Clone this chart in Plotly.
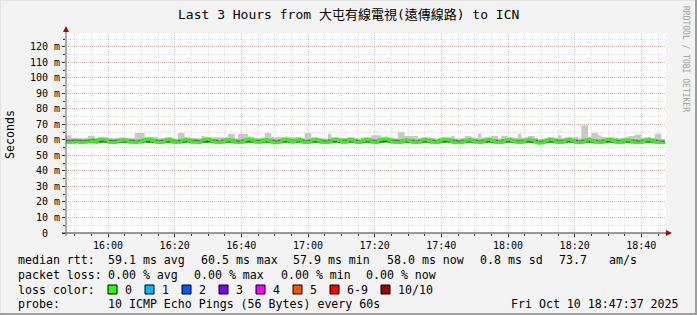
import plotly.graph_objects as go
import pandas as pd
import numpy as np

# ---------------- data ----------------
title_text = "Last 3 Hours from 大屯有線電視(遠傳線路) to ICN"
start_time = "2025-10-10 15:47:00"
view_start = "2025-10-10 15:47:24"
view_end = "2025-10-10 18:47:24"

# median rtt per minute (ms)
median_ms = [
    58.6, 58.4, 58.5, 58.8, 58.5, 58.4, 58.6, 58.9, 59.2, 59.0,
    60.1, 60.3, 59.8, 58.6, 58.4, 58.5, 59.3, 60.0, 59.6, 58.8,
    58.5, 58.3, 58.7, 59.4, 60.2, 60.4, 59.5, 58.9, 58.4, 58.6,
    59.8, 60.2, 58.9, 58.3, 58.5, 59.6, 60.1, 59.4, 58.7, 58.5,
    58.4, 59.9, 60.3, 60.2, 59.0, 58.6, 58.3, 58.8, 59.7, 60.1,
    59.2, 58.4, 58.2, 58.9, 60.0, 60.4, 59.7, 58.7, 58.5, 59.2,
    60.1, 59.3, 58.5, 58.1, 58.6, 59.9, 60.3, 59.4, 58.9, 59.6,
    60.2, 58.8, 58.3, 58.6, 59.8, 60.1, 59.2, 58.4, 58.2, 58.9,
    60.0, 60.2, 59.5, 58.6, 58.9, 60.1, 59.7, 58.5, 58.3, 59.3,
    60.2, 59.6, 58.7, 58.4, 59.9, 60.3, 60.5, 59.6, 58.8, 58.5,
    58.4, 59.2, 60.0, 59.5, 58.6, 58.3, 58.7, 59.8, 60.2, 59.4,
    58.6, 58.2, 59.1, 60.1, 60.3, 59.7, 58.9, 58.4, 58.1, 58.7,
    59.6, 60.2, 59.4, 58.6, 58.3, 58.8, 60.0, 60.3, 59.3, 58.5,
    58.2, 59.0, 59.9, 60.2, 59.5, 58.7, 58.4, 58.9, 59.8, 60.1,
    59.6, 58.6, 57.9, 58.3, 59.4, 60.2, 59.8, 58.8, 58.4, 58.7,
    59.9, 60.3, 59.5, 58.5, 58.2, 58.6, 59.7, 60.1, 59.3, 58.6,
    58.3, 58.9, 60.0, 60.2, 59.4, 58.7, 58.4, 59.1, 60.0, 59.6,
    58.8, 58.4, 58.2, 58.9, 59.8, 60.1, 59.2, 58.5, 58.3, 58.0,
]

# fastest ping per minute (ms)
ping_min = [
    57.8, 57.7, 57.9, 58.0, 57.8, 57.7, 57.9, 58.1, 58.0, 57.8,
    57.9, 58.2, 58.0, 57.7, 57.6, 57.8, 58.0, 58.1, 57.9, 57.7,
    57.8, 57.6, 57.9, 58.0, 58.2, 58.1, 57.9, 57.7, 57.6, 57.8,
    58.0, 58.1, 57.8, 57.6, 57.7, 57.9, 58.2, 58.0, 57.8, 57.7,
    57.6, 58.0, 58.1, 58.2, 57.9, 57.7, 57.6, 57.8, 58.0, 58.1,
    57.9, 57.7, 57.6, 57.8, 58.1, 58.2, 58.0, 57.8, 57.7, 57.9,
    58.1, 57.9, 57.7, 57.5, 57.8, 58.0, 58.2, 57.9, 57.8, 58.0,
    58.1, 57.8, 57.6, 57.7, 58.0, 58.1, 57.9, 57.7, 57.5, 57.8,
    58.0, 58.2, 57.9, 57.7, 57.8, 58.1, 58.0, 57.7, 57.6, 57.9,
    58.1, 57.9, 57.8, 57.6, 57.9, 58.2, 58.3, 58.0, 57.8, 57.7,
    57.6, 57.9, 58.1, 58.0, 57.7, 57.5, 57.8, 58.0, 58.2, 57.9,
    57.7, 57.5, 57.8, 58.1, 58.2, 58.0, 57.8, 57.6, 57.5, 57.8,
    58.0, 58.2, 57.9, 57.7, 57.6, 57.8, 58.1, 58.2, 57.9, 57.7,
    57.5, 57.8, 58.0, 58.2, 58.0, 57.8, 57.6, 57.8, 58.0, 58.1,
    57.9, 57.7, 57.3, 57.6, 57.9, 58.1, 58.0, 57.8, 57.6, 57.7,
    58.0, 58.2, 58.0, 57.7, 57.5, 57.7, 58.0, 58.1, 57.9, 57.7,
    57.6, 57.8, 58.1, 58.2, 57.9, 57.7, 57.6, 57.8, 58.1, 57.9,
    57.8, 57.6, 57.5, 57.8, 58.0, 58.1, 57.9, 57.7, 57.6, 57.4,
]

# slowest ping per minute (ms)
ping_max = [
    63.0, 63.0, 61.3, 61.5, 61.2, 61.1, 61.4, 62.5, 62.5, 61.5,
    61.9, 62.1, 61.7, 61.3, 61.1, 61.2, 61.6, 61.8, 61.5, 61.4,
    61.2, 64.5, 64.5, 64.5, 62.0, 62.0, 62.0, 62.0, 61.1, 61.3,
    61.7, 62.0, 61.4, 61.0, 64.5, 64.5, 61.9, 61.6, 61.3, 61.2,
    61.1, 62.5, 62.1, 62.0, 61.8, 61.8, 61.8, 61.8, 61.7, 63.8,
    63.8, 61.1, 63.8, 63.8, 63.8, 62.2, 61.7, 61.3, 61.2, 61.6,
    64.5, 64.5, 62.0, 62.0, 62.0, 62.0, 62.2, 62.0, 62.0, 62.0,
    62.0, 61.4, 64.5, 64.5, 61.7, 61.9, 61.5, 61.1, 61.0, 64.0,
    61.8, 62.0, 61.6, 61.2, 61.4, 62.0, 61.7, 61.2, 61.0, 61.6,
    62.0, 61.7, 63.0, 63.0, 63.0, 62.1, 62.3, 61.7, 61.4, 61.2,
    65.0, 65.0, 62.5, 62.5, 62.5, 62.5, 61.3, 61.7, 62.0, 61.6,
    61.2, 60.9, 61.5, 61.9, 62.1, 61.7, 62.5, 61.1, 60.9, 61.3,
    62.5, 62.5, 61.6, 61.2, 64.0, 61.4, 61.8, 62.1, 62.5, 62.5,
    60.9, 62.8, 62.8, 62.0, 61.6, 61.3, 64.0, 61.4, 61.7, 62.5,
    62.5, 61.2, 60.7, 61.0, 61.5, 62.0, 61.7, 61.4, 63.0, 61.3,
    61.8, 62.1, 61.6, 62.0, 60.9, 69.5, 69.5, 61.9, 64.5, 64.5,
    63.0, 62.0, 61.8, 62.0, 62.0, 61.3, 61.1, 61.5, 61.8, 62.5,
    62.5, 63.5, 63.5, 61.4, 61.7, 61.9, 61.5, 64.0, 64.0, 60.8,
]

# upper edge of the middle smoke layer (ms)
smoke_mid_hi = [
    60.5, 60.3, 60.4, 60.6, 60.4, 60.3, 60.5, 60.7, 60.9, 60.7,
    61.1, 61.3, 60.9, 60.4, 60.3, 60.4, 60.8, 61.0, 60.8, 60.6,
    60.4, 60.2, 60.5, 60.8, 61.2, 61.4, 60.8, 60.6, 60.3, 60.4,
    60.9, 61.2, 60.6, 60.2, 60.4, 60.8, 61.1, 60.8, 60.5, 60.4,
    60.3, 61.0, 61.3, 61.2, 60.7, 60.4, 60.2, 60.6, 60.9, 61.1,
    60.8, 60.3, 60.2, 60.6, 61.1, 61.4, 60.9, 60.5, 60.4, 60.8,
    61.1, 60.8, 60.4, 60.1, 60.4, 61.0, 61.3, 60.8, 60.6, 60.8,
    61.2, 60.6, 60.2, 60.4, 60.9, 61.1, 60.7, 60.3, 60.2, 60.6,
    61.0, 61.2, 60.8, 60.4, 60.6, 61.1, 60.9, 60.4, 60.2, 60.8,
    61.2, 60.9, 60.5, 60.3, 61.0, 61.3, 61.5, 60.9, 60.6, 60.4,
    60.3, 60.7, 61.0, 60.8, 60.4, 60.2, 60.5, 60.9, 61.2, 60.8,
    60.4, 60.1, 60.7, 61.1, 61.3, 60.9, 60.6, 60.3, 60.1, 60.5,
    60.8, 61.2, 60.8, 60.4, 60.2, 60.6, 61.0, 61.3, 60.7, 60.4,
    60.1, 60.6, 61.0, 61.2, 60.8, 60.5, 60.3, 60.6, 60.9, 61.1,
    60.8, 60.4, 59.9, 60.2, 60.7, 61.2, 60.9, 60.6, 60.3, 60.5,
    61.0, 61.3, 60.8, 60.4, 60.1, 60.4, 60.9, 61.1, 60.7, 60.4,
    60.2, 60.6, 61.0, 61.2, 60.8, 60.5, 60.3, 60.7, 61.0, 60.8,
    60.6, 60.3, 60.1, 60.6, 60.9, 61.1, 60.7, 60.4, 60.2, 60.0,
]

# innermost (dark) smoke layer edges (ms)
smoke_dark_lo = [
    58.4, 58.3, 58.4, 58.5, 58.3, 58.3, 58.4, 58.6, 58.5, 58.4,
    58.5, 58.6, 58.5, 58.3, 58.2, 58.3, 58.5, 58.6, 58.4, 58.3,
    58.4, 58.2, 58.4, 58.5, 58.6, 58.6, 58.4, 58.3, 58.2, 58.3,
    58.5, 58.6, 58.3, 58.2, 58.3, 58.4, 58.6, 58.5, 58.3, 58.3,
    58.2, 58.5, 58.6, 58.6, 58.4, 58.3, 58.2, 58.3, 58.5, 58.6,
    58.4, 58.3, 58.2, 58.3, 58.6, 58.6, 58.5, 58.3, 58.3, 58.4,
    58.6, 58.4, 58.3, 58.1, 58.3, 58.5, 58.6, 58.4, 58.3, 58.5,
    58.6, 58.3, 58.2, 58.3, 58.5, 58.6, 58.4, 58.3, 58.1, 58.3,
    58.5, 58.6, 58.4, 58.3, 58.3, 58.6, 58.5, 58.3, 58.2, 58.4,
    58.6, 58.4, 58.3, 58.2, 58.4, 58.6, 58.7, 58.5, 58.3, 58.3,
    58.2, 58.4, 58.6, 58.5, 58.3, 58.1, 58.3, 58.5, 58.6, 58.4,
    58.3, 58.1, 58.3, 58.6, 58.6, 58.5, 58.3, 58.2, 58.1, 58.3,
    58.5, 58.6, 58.4, 58.3, 58.2, 58.3, 58.6, 58.6, 58.4, 58.3,
    58.1, 58.3, 58.5, 58.6, 58.5, 58.3, 58.2, 58.3, 58.5, 58.6,
    58.4, 58.3, 57.8, 58.2, 58.4, 58.6, 58.5, 58.3, 58.2, 58.3,
    58.5, 58.6, 58.5, 58.3, 58.1, 58.3, 58.5, 58.6, 58.4, 58.3,
    58.2, 58.3, 58.6, 58.6, 58.4, 58.3, 58.2, 58.3, 58.6, 58.4,
    58.3, 58.2, 58.1, 58.3, 58.5, 58.6, 58.4, 58.3, 58.2, 58.1,
]
smoke_dark_hi = [
    59.6, 59.5, 59.6, 59.8, 59.6, 59.5, 59.7, 59.9, 60.1, 59.9,
    60.3, 60.5, 60.1, 59.6, 59.5, 59.6, 60.0, 60.2, 60.0, 59.8,
    59.6, 59.4, 59.7, 60.0, 60.4, 60.6, 60.0, 59.8, 59.5, 59.6,
    60.1, 60.4, 59.8, 59.4, 59.6, 60.0, 60.3, 60.0, 59.7, 59.6,
    59.5, 60.2, 60.5, 60.4, 59.9, 59.6, 59.4, 59.8, 60.1, 60.3,
    60.0, 59.5, 59.4, 59.8, 60.3, 60.6, 60.1, 59.7, 59.6, 60.0,
    60.3, 60.0, 59.6, 59.3, 59.6, 60.2, 60.5, 60.0, 59.8, 60.0,
    60.4, 59.8, 59.4, 59.6, 60.1, 60.3, 59.9, 59.5, 59.4, 59.8,
    60.2, 60.4, 60.0, 59.6, 59.8, 60.3, 60.1, 59.6, 59.4, 60.0,
    60.4, 60.1, 59.7, 59.5, 60.2, 60.5, 60.7, 60.1, 59.8, 59.6,
    59.5, 59.9, 60.2, 60.0, 59.6, 59.4, 59.7, 60.1, 60.4, 60.0,
    59.6, 59.3, 59.9, 60.3, 60.5, 60.1, 59.8, 59.5, 59.3, 59.7,
    60.0, 60.4, 60.0, 59.6, 59.4, 59.8, 60.2, 60.5, 59.9, 59.6,
    59.3, 59.8, 60.2, 60.4, 60.0, 59.7, 59.5, 59.8, 60.1, 60.3,
    60.0, 59.6, 59.1, 59.4, 59.9, 60.4, 60.1, 59.8, 59.5, 59.7,
    60.2, 60.5, 60.0, 59.6, 59.3, 59.6, 60.1, 60.3, 59.9, 59.6,
    59.4, 59.8, 60.2, 60.4, 60.0, 59.7, 59.5, 59.9, 60.2, 60.0,
    59.8, 59.5, 59.3, 59.8, 60.1, 60.3, 59.9, 59.6, 59.4, 59.2,
]

ytick_vals = [0, 10, 20, 30, 40, 50, 60, 70, 80, 90, 100, 110, 120]
ytick_text = ["0\u00a0\u00a0", "10 m", "20 m", "30 m", "40 m", "50 m", "60 m",
              "70 m", "80 m", "90 m", "100 m", "110 m", "120 m"]

rtt_items = ["median rtt:", "59.1 ms avg", "60.5 ms max", "57.9 ms min",
             "58.0 ms now", "0.8 ms sd", "73.7", "am/s"]
loss_items = ["packet loss:", "0.00 % avg", "0.00 % max", "0.00 % min", "0.00 % now"]
loss_labels = ["0", "1", "2", "3", "4", "5", "6-9", "10/10"]
loss_colors = ["#26ff00", "#00b8ff", "#0059ff", "#7e00ff", "#ff00ff",
               "#ff5500", "#ff0000", "#a10000"]
probe_text = "10 ICMP Echo Pings (56 Bytes) every 60s"
stamp_text = "Fri Oct 10 18:47:37 2025"

# ---------------- layout helpers ----------------
W, H = 697, 315
L, R, T, B = 66, 666, 33, 233
MONO = "DejaVu Sans Mono, Noto Sans CJK TC, monospace"


def px(x):
    return (x - L) / (R - L)


def py(y):
    return (B - y) / (B - T)


times = pd.date_range(start_time, periods=len(median_ms) + 1, freq="min")


def ext(a):
    a = np.asarray(a, dtype=float)
    return np.append(a, a[-1])


fig = go.Figure()


def band(lo, hi, color):
    fig.add_trace(go.Scatter(x=times, y=ext(lo), mode="lines",
                             line=dict(width=0, shape="hv"),
                             hoverinfo="skip", showlegend=False))
    fig.add_trace(go.Scatter(x=times, y=ext(hi), mode="lines",
                             line=dict(width=0, shape="hv"),
                             fill="tonexty", fillcolor=color,
                             hoverinfo="skip", showlegend=False))


band(ping_min, ping_max, "#c8c8c8")
band(ping_min, smoke_mid_hi, "#8e8e8e")
band(smoke_dark_lo, smoke_dark_hi, "#383838")

fig.add_trace(go.Scatter(x=times, y=ext(median_ms), mode="lines",
                         line=dict(color=loss_colors[0], width=2.5, shape="hv"),
                         hoverinfo="skip", showlegend=False))

grid_major = "rgba(225,110,110,0.42)"
grid_minor = "rgba(160,160,160,0.32)"
axis_col = "#3a3030"

fig.update_xaxes(
    type="date", range=[view_start, view_end],
    tick0="2025-10-10 16:00:00", dtick=20 * 60 * 1000, tickformat="%H:%M",
    showgrid=True, gridcolor=grid_major, griddash="1px,1px", gridwidth=1,
    ticks="outside", ticklen=3, tickcolor=axis_col,
    minor=dict(dtick=5 * 60 * 1000, showgrid=True, gridcolor=grid_minor,
               griddash="1px,1px", ticks="outside", ticklen=2, tickcolor=axis_col),
    tickfont=dict(family=MONO, size=10, color="#000000"),
    showline=False, zeroline=False, fixedrange=True,
)
fig.update_yaxes(
    range=[0, 129], tickvals=ytick_vals, ticktext=ytick_text,
    showgrid=True, gridcolor=grid_major, griddash="1px,1px", gridwidth=1,
    ticks="outside", ticklen=3, tickcolor=axis_col,
    minor=dict(dtick=5, showgrid=True, gridcolor=grid_minor,
               griddash="1px,1px", ticks="outside", ticklen=2, tickcolor=axis_col),
    tickfont=dict(family=MONO, size=10, color="#000000"),
    showline=False, zeroline=False, fixedrange=True,
)

shapes = []
# outer shade frame
shapes.append(dict(type="rect", xref="paper", yref="paper", x0=px(W - 2), x1=px(W),
                   y0=py(H), y1=py(0), fillcolor="#9e9e9e", line=dict(width=0), layer="above"))
shapes.append(dict(type="rect", xref="paper", yref="paper", x0=px(0), x1=px(W),
                   y0=py(H), y1=py(H - 2), fillcolor="#9e9e9e", line=dict(width=0), layer="above"))
shapes.append(dict(type="rect", xref="paper", yref="paper", x0=px(0), x1=px(W - 2),
                   y0=py(1), y1=py(0), fillcolor="#e4e4e4", line=dict(width=0), layer="above"))
shapes.append(dict(type="rect", xref="paper", yref="paper", x0=px(0), x1=px(1),
                   y0=py(H - 2), y1=py(0), fillcolor="#e4e4e4", line=dict(width=0), layer="above"))
# axes
shapes.append(dict(type="line", xref="paper", yref="paper", x0=px(62), x1=px(668),
                   y0=py(B), y1=py(B), line=dict(color=axis_col, width=1), layer="above"))
shapes.append(dict(type="line", xref="paper", yref="paper", x0=px(L), x1=px(L),
                   y0=py(B + 3), y1=py(30), line=dict(color="#606060", width=1), layer="above"))
# arrows
shapes.append(dict(type="path", xref="paper", yref="paper",
                   path=f"M {px(672)} {py(B)} L {px(666)} {py(B-3)} L {px(666)} {py(B+3)} Z",
                   fillcolor="#9b1010", line=dict(width=0), layer="above"))
shapes.append(dict(type="path", xref="paper", yref="paper",
                   path=f"M {px(L)} {py(26)} L {px(L-3)} {py(32)} L {px(L+3)} {py(32)} Z",
                   fillcolor="#9b1010", line=dict(width=0), layer="above"))

annotations = []


def text(x, y, s, size=11.6, anchor="left", color="#000000", angle=0):
    annotations.append(dict(xref="paper", yref="paper", x=px(x), y=py(y), text=s,
                            showarrow=False, xanchor=anchor, yanchor="middle",
                            textangle=angle,
                            font=dict(family=MONO, size=size, color=color)))


text(348, 14, title_text, size=13, anchor="center")
text(10, 135, "Seconds", size=11.6, anchor="center", angle=-90)
text(686, 59, "RRDTOOL / TOBI OETIKER", size=8, anchor="center", color="#a0a0a0", angle=90)

rtt_x = [16, 106, 199, 291, 385, 478, 557, 607]
for xx, s in zip(rtt_x, rtt_items):
    text(xx, 259.5, s)
loss_x = [16, 106, 192, 279, 364]
for xx, s in zip(loss_x, loss_items):
    text(xx, 274.5, s)

text(16, 289.5, "loss color:")
box_x = [108, 145, 182, 219, 256, 293, 330, 381]
for bx, lab, col in zip(box_x, loss_labels, loss_colors):
    shapes.append(dict(type="rect", xref="paper", yref="paper",
                       x0=px(bx), x1=px(bx + 9), y0=py(294), y1=py(285),
                       fillcolor=col, line=dict(color="#000000", width=1), layer="above"))
    text(bx + 15, 289.5, lab)

text(16, 304, "probe:")
text(106, 304, probe_text)
text(681, 304, stamp_text, anchor="right")

fig.update_layout(
    width=W, height=H,
    margin=dict(l=L, r=W - R, t=T, b=H - B, pad=0),
    paper_bgcolor="#f3f3f3", plot_bgcolor="#ffffff",
    showlegend=False, shapes=shapes, annotations=annotations,
)

fig.write_html("out.html")
